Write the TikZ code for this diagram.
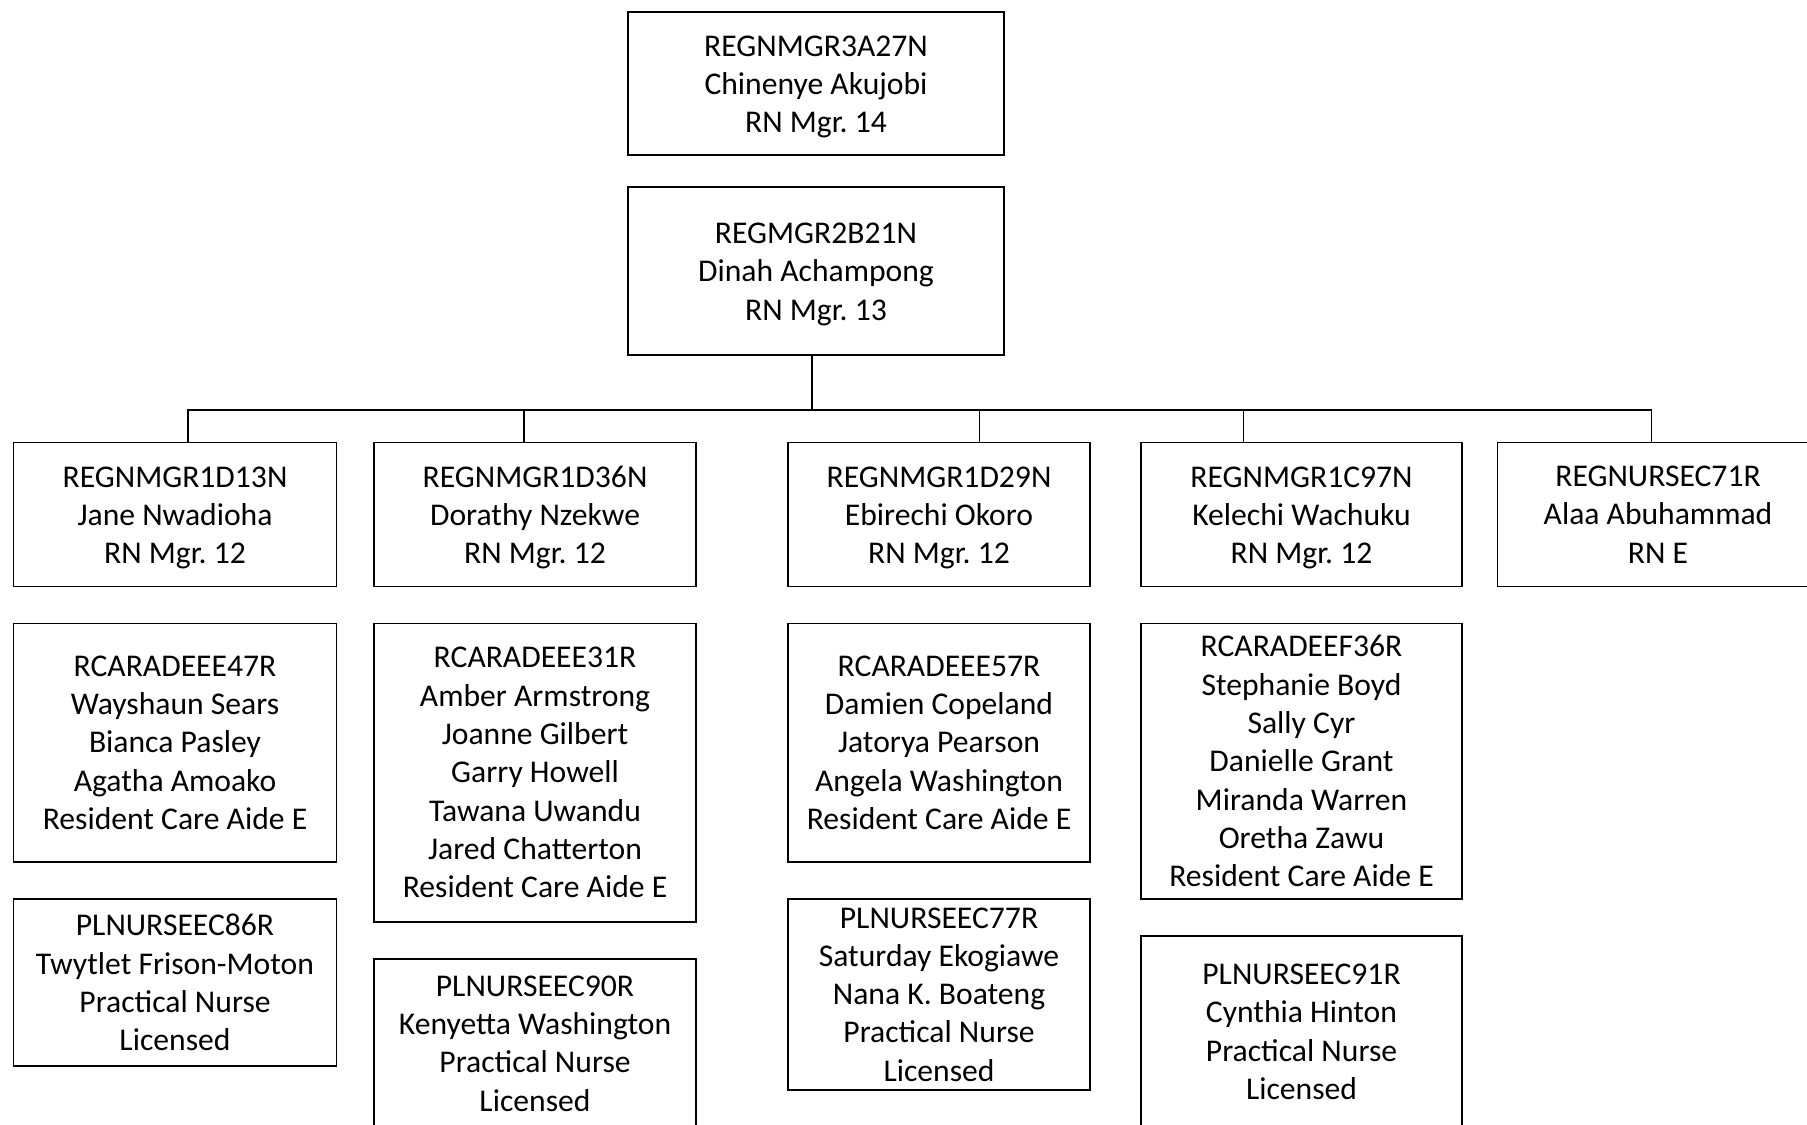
\documentclass[tikz,border=0pt]{standalone}
\usepackage{fontspec}
\setmainfont{Carlito}
\frenchspacing
% extra room above the first line of the three-line boxes
\newcommand\topgap{\rule{0pt}{15.6pt}}
\begin{document}
\begin{tikzpicture}[line cap=rect, line join=miter,
    post/.style={draw, line width=0.95pt, inner sep=0pt, outer sep=0pt,
      align=center, anchor=north, font=\fontsize{18}{21.8}\selectfont},
    link/.style={line width=0.95pt}]
  \useasboundingbox (0,0) rectangle (36.14,-22.5);
  % top two boxes
  \node[post, minimum width=7.52cm, minimum height=2.86cm] (a) at (16.32,-0.24)
    {\topgap REGNMGR3A27N\\Chinenye Akujobi\\RN Mgr. 14};
  \node[post, minimum width=7.52cm, minimum height=3.36cm] (m) at (16.32,-3.74)
    {\topgap REGMGR2B21N\\Dinah Achampong\\RN Mgr. 13};
  % managers
  \node[post, minimum width=6.46cm, minimum height=2.88cm] (b1) at (3.50,-8.85)
    {\topgap REGNMGR1D13N\\Jane Nwadioha\\RN Mgr. 12};
  \node[post, minimum width=6.43cm, minimum height=2.88cm] (b2) at (10.70,-8.85)
    {\topgap REGNMGR1D36N\\Dorathy Nzekwe\\RN Mgr. 12};
  \node[post, minimum width=6.04cm, minimum height=2.88cm] (b3) at (18.78,-8.85)
    {\topgap REGNMGR1D29N\\Ebirechi Okoro\\RN Mgr. 12};
  \node[post, minimum width=6.42cm, minimum height=2.88cm] (b4) at (26.03,-8.85)
    {\topgap REGNMGR1C97N\\Kelechi Wachuku\\RN Mgr. 12};
  \node[post, minimum width=6.42cm, minimum height=2.88cm] (b5) at (33.16,-8.85)
    {REGNURSEC71R\\Alaa Abuhammad\\RN E};
  % care aides
  \node[post, minimum width=6.46cm, minimum height=4.77cm] (c1) at (3.50,-12.47)
    {RCARADEEE47R\\Wayshaun Sears\\Bianca Pasley\\Agatha Amoako\\Resident Care Aide E};
  \node[post, minimum width=6.43cm, minimum height=5.97cm] (c2) at (10.70,-12.47)
    {RCARADEEE31R\\Amber Armstrong\\Joanne Gilbert\\Garry Howell\\Tawana Uwandu\\Jared Chatterton\\Resident Care Aide E};
  \node[post, minimum width=6.04cm, minimum height=4.77cm] (c3) at (18.78,-12.47)
    {RCARADEEE57R\\Damien Copeland\\Jatorya Pearson\\Angela Washington\\Resident Care Aide E};
  \node[post, minimum width=6.42cm, minimum height=5.51cm] (c4) at (26.03,-12.47)
    {RCARADEEF36R\\Stephanie Boyd\\Sally Cyr\\Danielle Grant\\Miranda Warren\\Oretha Zawu\\Resident Care Aide E};
  % practical nurses
  \node[post, minimum width=6.46cm, minimum height=3.34cm] (d1) at (3.50,-17.98)
    {PLNURSEEC86R\\Twytlet Frison-Moton\\Practical Nurse\\Licensed};
  \node[post, minimum width=6.43cm, minimum height=3.38cm] (d2) at (10.70,-19.18)
    {PLNURSEEC90R\\Kenyetta Washington\\Practical Nurse\\Licensed};
  \node[post, minimum width=6.04cm, minimum height=3.82cm] (d3) at (18.78,-17.98)
    {PLNURSEEC77R\\Saturday Ekogiawe\\Nana K. Boateng\\Practical Nurse\\Licensed};
  \node[post, minimum width=6.42cm, minimum height=3.84cm] (d4) at (26.03,-18.72)
    {PLNURSEEC91R\\Cynthia Hinton\\Practical Nurse\\Licensed};
  % bus
  \coordinate (jm) at (16.24,-8.20);
  \coordinate (j1) at (3.756,-8.20);
  \coordinate (j2) at (10.486,-8.20);
  \coordinate (j3) at (19.59,-8.20);
  \coordinate (j4) at (24.868,-8.20);
  \coordinate (j5) at (33.028,-8.20);
  \draw[link] (jm |- m.south) -- (jm);
  \draw[link] (j1) -- (j5);
  \draw[link] (j1) -- (j1 |- b1.north);
  \draw[link] (j2) -- (j2 |- b2.north);
  \draw[link] (j3) -- (j3 |- b3.north);
  \draw[link] (j4) -- (j4 |- b4.north);
  \draw[link] (j5) -- (j5 |- b5.north);
\end{tikzpicture}
\end{document}
